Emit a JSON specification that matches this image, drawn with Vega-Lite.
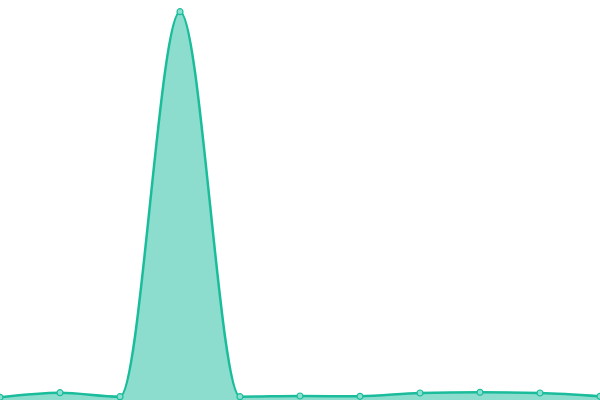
{
  "$schema": "https://vega.github.io/schema/vega-lite/v6.json",
  "width": 600,
  "height": 400,
  "padding": 0,
  "autosize": {"type": "none"},
  "background": "white",
  "config": {"view": {"stroke": null}},
  "data": {"values": [
    {"x": 0, "y": 2.7},
    {"x": 1, "y": 7.3},
    {"x": 2, "y": 3.3},
    {"x": 3, "y": 388.3},
    {"x": 4, "y": 3.3},
    {"x": 5, "y": 4.0},
    {"x": 6, "y": 3.7},
    {"x": 7, "y": 7.0},
    {"x": 8, "y": 7.7},
    {"x": 9, "y": 7.0},
    {"x": 10, "y": 3.7}
  ]},
  "encoding": {
    "x": {"field": "x", "type": "quantitative", "scale": {"domain": [0, 10], "nice": false, "zero": false}, "axis": null},
    "y": {"field": "y", "type": "quantitative", "scale": {"domain": [0, 400], "nice": false}, "axis": null}
  },
  "layer": [
    {"mark": {"type": "area", "interpolate": "monotone", "color": "#1abc9c", "opacity": 0.5}},
    {"mark": {"type": "line", "interpolate": "monotone", "color": "#1abc9c", "strokeWidth": 2.5}},
    {"mark": {"type": "point", "filled": true, "fill": "#8ae0cf", "stroke": "#1abc9c", "strokeWidth": 1.2, "size": 36, "opacity": 1}}
  ]
}
